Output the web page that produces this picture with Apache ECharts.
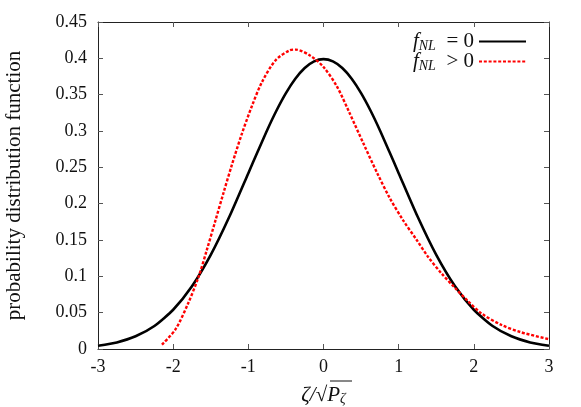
<!DOCTYPE html>
<html>
<head>
<meta charset="utf-8">
<script src="https://cdn.jsdelivr.net/npm/echarts@6/dist/echarts.min.js"></script>
<style>html,body{margin:0;padding:0;background:#fff}#c{width:581px;height:407px}</style>
</head>
<body>
<div id="c"></div>
<script>
// Gaussian (f_NL = 0)
const blackX = [-3,-2.75,-2.5,-2.25,-2,-1.75,-1.5,-1.25,-1,-0.875,-0.75,-0.625,-0.5,-0.375,-0.25,-0.125,0,0.125,0.25,0.375,0.5,0.625,0.75,0.875,1,1.25,1.5,1.75,2,2.25,2.5,2.75,3];
const blackY = [0.0044,0.0091,0.0175,0.0317,0.054,0.0863,0.1295,0.1826,0.242,0.2717,0.3011,0.3282,0.3521,0.3719,0.3867,0.3958,0.3989,0.3958,0.3867,0.3719,0.3521,0.3282,0.3011,0.2717,0.242,0.1826,0.1295,0.0863,0.054,0.0317,0.0175,0.0091,0.0044];
// Non-Gaussian (f_NL > 0)
const redX = [-2.15,-1.97,-1.80,-1.66,-1.55,-1.44,-1.33,-1.22,-1.09,-0.95,-0.82,-0.64,-0.45,-0.37,-0.18,0.0,0.18,0.35,0.53,0.71,0.88,1.06,1.24,1.39,1.57,1.75,1.92,2.10,2.37,2.63,3.0];
const redY = [0.006,0.027,0.063,0.100,0.137,0.176,0.215,0.253,0.295,0.335,0.367,0.397,0.411,0.412,0.404,0.388,0.361,0.324,0.283,0.243,0.208,0.177,0.150,0.127,0.104,0.084,0.066,0.049,0.033,0.023,0.0135];
const xTicks = {min: -3, max: 3, interval: 1};
const yTicks = {min: 0, max: 0.45, interval: 0.05};
const seriesNames = ['f0', 'f1'];

const FONT = 'Liberation Serif';
const zip = (xs, ys) => xs.map((x, i) => [x, ys[i]]);

const chart = echarts.init(document.getElementById('c'), null, {renderer: 'canvas'});
const axisLine = {show: true, onZero: false, lineStyle: {color: '#222', width: 1}};
const axisTick = {show: true, inside: true, length: 5, lineStyle: {color: '#555', width: 1}};
const legendRich = {
  f: {fontFamily: FONT, fontStyle: 'italic', fontSize: 21, color: '#111', lineHeight: 20},
  s: {fontFamily: FONT, fontStyle: 'italic', fontSize: 14, color: '#111', lineHeight: 11, padding: [9, 0, 0, 0]},
  t: {fontFamily: FONT, fontSize: 21, color: '#111', lineHeight: 20}
};
chart.setOption({
  animation: false,
  backgroundColor: '#fff',
  grid: {left: 98, right: 32, top: 22, bottom: 58, containLabel: false, outerBoundsMode: 'none'},
  legend: {
    orient: 'vertical', right: 49, top: 25, align: 'right',
    itemWidth: 47, itemHeight: 2, itemGap: -3,
    itemStyle: {opacity: 0},
    data: seriesNames,
    formatter: n => n === 'f0' ? '{f|f}{s|NL}{t|  = 0}' : '{f|f}{s|NL}{t|  > 0}',
    textStyle: {rich: legendRich, fontFamily: FONT, fontSize: 21}
  },
  xAxis: [{
    type: 'value', min: xTicks.min, max: xTicks.max, interval: xTicks.interval,
    axisLine, axisTick, splitLine: {show: false},
    axisLabel: {fontFamily: FONT, fontSize: 18, color: '#111', margin: 9},
    name: '{a|ζ/√}{b|P}{c|ζ}', nameLocation: 'middle', nameGap: 35,
    nameTextStyle: {rich: {
      a: {fontFamily: FONT, fontStyle: 'italic', fontSize: 21, color: '#111'},
      b: {fontFamily: FONT, fontStyle: 'italic', fontSize: 21, color: '#111'},
      c: {fontFamily: FONT, fontStyle: 'italic', fontSize: 14, color: '#111', padding: [8, 0, 0, 0]}
    }}
  }, {
    type: 'value', position: 'top', min: xTicks.min, max: xTicks.max, interval: xTicks.interval,
    axisLine, axisTick, axisLabel: {show: false}, splitLine: {show: false}
  }],
  yAxis: [{
    type: 'value', min: yTicks.min, max: yTicks.max, interval: yTicks.interval,
    axisLine, axisTick, splitLine: {show: false},
    axisLabel: {fontFamily: FONT, fontSize: 18, color: '#111', margin: 11},
    name: 'probability distribution function', nameLocation: 'middle', nameRotate: 90, nameGap: 73,
    nameTextStyle: {fontFamily: FONT, fontSize: 21, color: '#111'}
  }, {
    type: 'value', position: 'right', min: yTicks.min, max: yTicks.max, interval: yTicks.interval,
    axisLine, axisTick, axisLabel: {show: false}, splitLine: {show: false}
  }],
  series: [{
    name: 'f0', type: 'line', data: zip(blackX, blackY), symbol: 'none', smooth: 0.2,
    lineStyle: {color: '#000', width: 2.6}, itemStyle: {color: '#000'}
  }, {
    name: 'f1', type: 'line', data: zip(redX, redY), symbol: 'none', smooth: 0.3,
    lineStyle: {color: '#ff0000', width: 2.4, type: [3, 1.8]}, itemStyle: {color: '#ff0000'}
  }],
  graphic: [{
    type: 'line', z: 100,
    shape: {x1: 330, y1: 381, x2: 352, y2: 381},
    style: {stroke: '#111', lineWidth: 1}
  }]
});
</script>
</body>
</html>
